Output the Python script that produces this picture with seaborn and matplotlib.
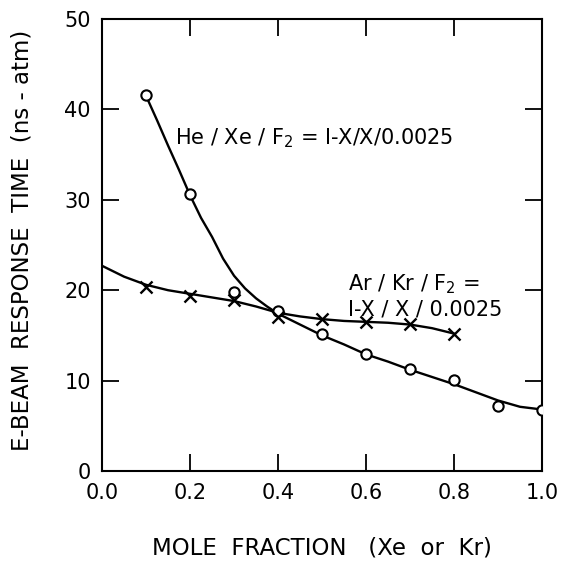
import matplotlib
matplotlib.use("Agg")
import matplotlib.pyplot as plt
import seaborn as sns
import pandas as pd

# measured points
he_x = [0.1, 0.2, 0.3, 0.4, 0.5, 0.6, 0.7, 0.8, 0.9, 1.0]
he_y = [41.6, 30.6, 19.8, 17.7, 15.2, 12.9, 11.3, 10.1, 7.2, 6.8]
ar_x = [0.1, 0.2, 0.3, 0.4, 0.5, 0.6, 0.7, 0.8]
ar_y = [20.4, 19.4, 18.9, 17.0, 16.8, 16.5, 16.3, 15.2]

# hand-drawn fit curves
he_fit_x = [0.1, 0.125, 0.15, 0.175, 0.2, 0.225, 0.25, 0.275, 0.3, 0.325, 0.35, 0.375, 0.4,
            0.45, 0.5, 0.55, 0.6, 0.65, 0.7, 0.75, 0.8, 0.85, 0.9, 0.95, 1.0]
he_fit_y = [41.5, 38.8, 36.0, 33.3, 30.5, 28.0, 25.9, 23.5, 21.6, 20.2, 19.1, 18.2, 17.4,
            16.2, 15.0, 14.0, 12.9, 12.1, 11.2, 10.4, 9.6, 8.7, 7.8, 7.1, 6.8]
ar_fit_x = [0.0, 0.05, 0.1, 0.15, 0.2, 0.25, 0.3, 0.35, 0.4, 0.45, 0.5, 0.55, 0.6, 0.65, 0.7, 0.75, 0.8]
ar_fit_y = [22.7, 21.5, 20.6, 20.0, 19.6, 19.2, 18.8, 18.2, 17.5, 17.1, 16.8, 16.6, 16.5, 16.4, 16.2, 15.8, 15.2]

x_ticks = [0.0, 0.2, 0.4, 0.6, 0.8, 1.0]
x_tick_labels = ["0.0", "0.2", "0.4", "0.6", "0.8", "1.0"]
y_ticks = [0, 10, 20, 30, 40, 50]
y_tick_labels = ["0", "10", "20", "30", "40", "50"]

sns.set_style("white")
plt.rcParams["font.family"] = ["DejaVu Sans"]
plt.rcParams["text.color"] = "black"
plt.rcParams["axes.labelcolor"] = "black"
plt.rcParams["xtick.color"] = "black"
plt.rcParams["ytick.color"] = "black"

fig = plt.figure(figsize=(5.64, 5.62), dpi=100)
ax = fig.add_axes([0.181, 0.162, 0.78, 0.804])

he_fit = pd.DataFrame({"x": he_fit_x, "y": he_fit_y})
ar_fit = pd.DataFrame({"x": ar_fit_x, "y": ar_fit_y})
sns.lineplot(data=he_fit, x="x", y="y", ax=ax, color="black", lw=1.7, sort=False)
sns.lineplot(data=ar_fit, x="x", y="y", ax=ax, color="black", lw=1.7, sort=False)

he = pd.DataFrame({"x": he_x, "y": he_y})
ar = pd.DataFrame({"x": ar_x, "y": ar_y})
sns.scatterplot(data=he, x="x", y="y", ax=ax, marker="o", s=55, facecolor="white",
                edgecolor="black", linewidth=1.5, zorder=5)
sns.scatterplot(data=ar, x="x", y="y", ax=ax, marker="x", s=75, color="black",
                linewidth=1.7, zorder=5)

ax.set_xlim(0, 1.0)
ax.set_ylim(0, 50)
ax.set_xticks(x_ticks)
ax.set_xticklabels(x_tick_labels, fontsize=15, color="black")
ax.set_yticks(y_ticks)
ax.set_yticklabels(y_tick_labels, fontsize=15, color="black")
ax.tick_params(axis="both", direction="in", length=12, width=1.3, color="black",
               labelcolor="black", top=True, right=True, bottom=True, left=True)
ax.tick_params(axis="x", pad=9)
ax.tick_params(axis="y", pad=8)
for s in ax.spines.values():
    s.set_color("black")
    s.set_linewidth(1.5)

ax.set_xlabel("MOLE  FRACTION   (Xe  or  Kr)", fontsize=16.5, color="black")
ax.set_ylabel("E-BEAM  RESPONSE  TIME  (ns - atm)", fontsize=16.5, color="black")
ax.xaxis.set_label_coords(0.5, -0.145)
ax.yaxis.set_label_coords(-0.156, 0.51)

ax.text(0.165, 36.8, "He / Xe / F$_2$ = I-X/X/0.0025", fontsize=15, va="center", ha="left",
        color="black")
ax.text(0.56, 20.7, "Ar / Kr / F$_2$ =", fontsize=15, va="center", ha="left", color="black")
ax.text(0.56, 17.9, "I-X / X / 0.0025", fontsize=15, va="center", ha="left", color="black")

fig.savefig("out.png", dpi=100)
